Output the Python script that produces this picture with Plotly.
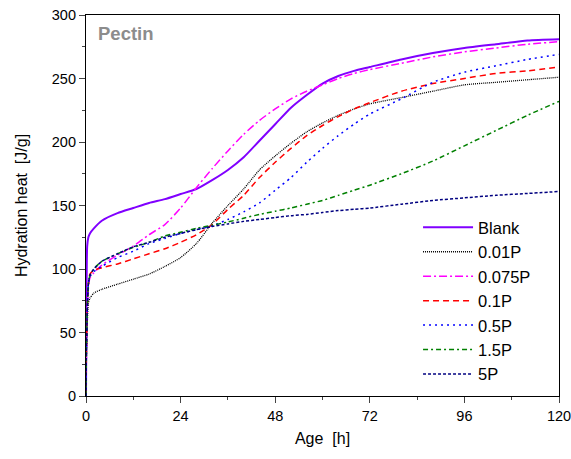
import plotly.graph_objects as go

hours = [0, 0.1, 0.3, 0.6, 1, 2, 4, 8, 12, 16, 20, 24, 28, 32, 36, 40, 44, 48, 52, 56,
         60, 64, 68, 72, 80, 88, 96, 104, 112, 120]

blank = [0, 60, 118, 125, 128, 132, 138, 144, 148, 152, 155, 159, 163, 170, 178, 188, 201, 214, 227, 237,
         246, 252, 256, 259, 265, 270, 274, 277, 280, 281]
p001 = [0, 30, 55, 73, 77, 81, 84, 88, 92, 96, 102, 109, 120, 136, 150, 163, 178, 189, 199, 208,
        215, 221, 226, 230, 235, 240, 245, 247, 249, 251]
p0075 = [0, 35, 65, 85, 93, 97, 103, 111, 118, 127, 135, 148, 164, 179, 193, 206, 217, 226, 234, 240,
         245, 250, 254, 257, 262, 267, 271, 274, 277, 279]
p01 = [0, 35, 65, 88, 96, 99, 101, 104, 108, 112, 116, 121, 127, 135, 147, 158, 172, 184, 195, 205,
       213, 220, 226, 231, 240, 246, 250, 254, 256, 259]
p05 = [0, 35, 65, 88, 94, 98, 102, 109, 114, 120, 124, 128, 131, 134, 139, 145, 152, 162, 172, 184,
       195, 205, 214, 222, 234, 247, 255, 260, 265, 269]
p15 = [0, 35, 65, 88, 95, 100, 106, 112, 117, 121, 126, 129, 132, 134.5, 137, 140, 143, 145.5, 148, 151,
       154, 158, 162, 166, 175, 185, 197, 209, 221, 232]
p5 = [0, 35, 65, 88, 95, 100, 106, 112, 117.5, 121, 125, 128, 131, 133.5, 135.5, 137.5, 139, 140.5, 142, 143,
      144.5, 146, 147, 148, 151, 154, 156, 158, 159.5, 161]

names = ["Blank", "0.01P", "0.075P", "0.1P", "0.5P", "1.5P", "5P"]
series = [blank, p001, p0075, p01, p05, p15, p5]
colors = ["#8000FF", "#000000", "#FF00FF", "#FF0000", "#0000FF", "#008000", "#000080"]
dashes = ["solid", "1px,1px", "8px,3px,2px,3px", "6px,4px", "2px,4px", "5px,3px,2px,3px", "3px,2px"]
widths = [2, 1.3, 1.5, 1.5, 1.5, 1.5, 1.5]

x_ticks = [0, 24, 48, 72, 96, 120]
y_ticks = [0, 50, 100, 150, 200, 250, 300]

fig = go.Figure()
for n, s, c, d, w in zip(names, series, colors, dashes, widths):
    fig.add_trace(go.Scatter(x=hours, y=s, name=n, mode="lines",
                             line=dict(color=c, dash=d, width=w, shape="spline", smoothing=0.6)))

font = "Liberation Sans, Arial, sans-serif"
fig.update_layout(
    width=571, height=459,
    margin=dict(l=86, r=12, t=15, b=63, autoexpand=False),
    paper_bgcolor="white", plot_bgcolor="white",
    font=dict(family=font, size=14, color="black"),
    showlegend=True,
    legend=dict(x=0.702, y=0.488, xanchor="left", yanchor="top",
                bgcolor="rgba(0,0,0,0)", borderwidth=0,
                font=dict(size=16.5, family=font), itemwidth=50,
                tracegroupgap=0),
    annotations=[dict(text="<b>Pectin</b>", x=0.022, y=0.985, xref="paper", yref="paper",
                      xanchor="left", yanchor="top", showarrow=False,
                      font=dict(size=18.5, color="#8c8c8c", family=font))],
)
fig.update_xaxes(range=[0, 120], tickvals=x_ticks, ticks="outside", ticklen=6, tickwidth=1,
                 showline=True, linecolor="black", linewidth=1.2, mirror=True,
                 showgrid=False, zeroline=False, automargin=False, ticklabeloverflow="allow",
                 minor=dict(ticks="outside", ticklen=3, dtick=12, tick0=0, showgrid=False),
                 title=dict(text="Age  [h]", font=dict(size=16), standoff=10),
                 tickfont=dict(size=14.5))
fig.update_yaxes(range=[0, 300], tickvals=y_ticks, ticks="outside", ticklen=6, tickwidth=1,
                 showline=True, linecolor="black", linewidth=1.2, mirror=True,
                 showgrid=False, zeroline=False, automargin=False, ticklabeloverflow="allow",
                 minor=dict(ticks="outside", ticklen=3, dtick=25, tick0=0, showgrid=False),
                 title=dict(text="Hydration heat  [J/g]", font=dict(size=16), standoff=20),
                 tickfont=dict(size=14.5))

fig.write_html("out.html", config={"displayModeBar": False},
               post_script="document.body.style.margin='0';document.body.style.overflow='hidden';")
